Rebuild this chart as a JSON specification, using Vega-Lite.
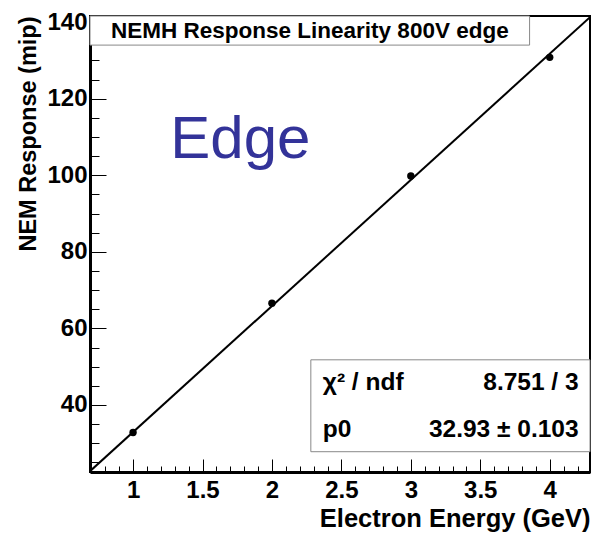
{
  "$schema": "https://vega.github.io/schema/vega-lite/v6.json",
  "width": 500,
  "height": 456,
  "autosize": "none",
  "padding": {"left": 90, "top": 16, "right": 6, "bottom": 64},
  "background": "white",
  "config": {
    "font": "Liberation Sans",
    "view": {"stroke": "black", "strokeWidth": 2},
    "axis": {
      "labelOverlap": false,
      "labelFlush": false,
      "labelBound": false,
      "grid": false,
      "tickColor": "black",
      "tickWidth": 1,
      "domainColor": "black",
      "domainWidth": 3,
      "labelFont": "Liberation Sans",
      "labelFontWeight": "bold",
      "labelFontSize": 24,
      "labelColor": "black",
      "titleFont": "Liberation Sans",
      "titleFontWeight": "bold",
      "titleColor": "black",
      "titleAnchor": "end"
    }
  },
  "datasets": {
    "points": [
      {"energy": 1, "response": 32.8},
      {"energy": 2, "response": 66.6},
      {"energy": 3, "response": 99.8},
      {"energy": 4, "response": 130.8}
    ],
    "fit": [
      {"energy": 0.69, "response": 22.72},
      {"energy": 4.29, "response": 141.27}
    ]
  },
  "layer": [
    {
      "data": {"name": "fit"},
      "mark": {"type": "line", "color": "black", "strokeWidth": 2, "clip": true},
      "encoding": {
        "x": {
          "field": "energy", "type": "quantitative",
          "scale": {"domain": [0.69, 4.29], "zero": false, "nice": false},
          "axis": {
            "values": [0.8, 0.9, 1, 1.1, 1.2, 1.3, 1.4, 1.5, 1.6, 1.7, 1.8, 1.9, 2, 2.1, 2.2, 2.3, 2.4, 2.5, 2.6, 2.7, 2.8, 2.9, 3, 3.1, 3.2, 3.3, 3.4, 3.5, 3.6, 3.7, 3.8, 3.9, 4, 4.1, 4.2],
            "tickCount": 500,
            "format": "~g",
            "labelExpr": "abs(datum.value*2 - round(datum.value*2)) < 0.001 ? datum.label : ''",
            "tickSize": {"condition": {"test": "abs(datum.value*2 - round(datum.value*2)) < 0.001", "value": -13}, "value": -6},
            "labelPadding": 19,
            "title": "Electron Energy (GeV)",
            "titleFontSize": 25.5,
            "titlePadding": -3
          }
        },
        "y": {
          "field": "response", "type": "quantitative",
          "scale": {"domain": [22.5, 141.6], "zero": false, "nice": false},
          "axis": {
            "values": [25, 30, 35, 40, 45, 50, 55, 60, 65, 70, 75, 80, 85, 90, 95, 100, 105, 110, 115, 120, 125, 130, 135, 140],
            "tickCount": 500,
            "format": "d",
            "labelExpr": "datum.value % 20 === 0 ? datum.label : ''",
            "tickSize": {"condition": {"test": "datum.value % 20 === 0", "value": -16}, "value": -9},
            "labelPadding": 19,
            "title": "NEM Response (mip)",
            "titleFontSize": 23.5,
            "titlePadding": 6
          }
        }
      }
    },
    {
      "data": {"values": [{}]},
      "mark": {"type": "rect", "fill": "white", "stroke": "#888888", "strokeWidth": 1},
      "encoding": {
        "x": {"datum": 0.69, "type": "quantitative"},
        "x2": {"datum": 3.855},
        "y": {"datum": 141.6, "type": "quantitative"},
        "y2": {"datum": 134.0}
      }
    },
    {
      "data": {"values": [{}]},
      "mark": {"type": "text", "text": "NEMH Response Linearity 800V edge", "font": "Liberation Sans", "fontWeight": "bold", "fontSize": 22.5, "align": "center", "baseline": "middle", "color": "black"},
      "encoding": {
        "x": {"datum": 2.273, "type": "quantitative"},
        "y": {"datum": 137.8, "type": "quantitative"}
      }
    },
    {
      "data": {"values": [{}]},
      "mark": {"type": "text", "text": "Edge", "font": "Liberation Sans", "fontSize": 60, "align": "center", "baseline": "alphabetic", "color": "#333399"},
      "encoding": {
        "x": {"datum": 1.773, "type": "quantitative"},
        "y": {"datum": 104.5, "type": "quantitative"}
      }
    },
    {
      "data": {"name": "points"},
      "mark": {"type": "circle", "color": "black", "opacity": 1, "size": 55},
      "encoding": {
        "x": {"field": "energy", "type": "quantitative"},
        "y": {"field": "response", "type": "quantitative"}
      }
    },
    {
      "data": {"values": [{}]},
      "mark": {"type": "rect", "fill": "white", "stroke": "#888888", "strokeWidth": 1},
      "encoding": {
        "x": {"datum": 2.28, "type": "quantitative"},
        "x2": {"datum": 4.29},
        "y": {"datum": 51.8, "type": "quantitative"},
        "y2": {"datum": 27.8}
      }
    },
    {
      "data": {"values": [{"label": "χ² / ndf", "value": "8.751 / 3", "row": 43.9}, {"label": "p0", "value": "32.93 ± 0.103", "row": 31.7}]},
      "layer": [
        {
          "mark": {"type": "text", "font": "Liberation Sans", "fontWeight": "bold", "fontSize": 24.5, "align": "left", "baseline": "alphabetic", "color": "black"},
          "encoding": {
            "x": {"datum": 2.366, "type": "quantitative"},
            "y": {"field": "row", "type": "quantitative"},
            "text": {"field": "label"}
          }
        },
        {
          "mark": {"type": "text", "font": "Liberation Sans", "fontWeight": "bold", "fontSize": 24.5, "align": "right", "baseline": "alphabetic", "color": "black"},
          "encoding": {
            "x": {"datum": 4.208, "type": "quantitative"},
            "y": {"field": "row", "type": "quantitative"},
            "text": {"field": "value"}
          }
        }
      ]
    }
  ]
}
